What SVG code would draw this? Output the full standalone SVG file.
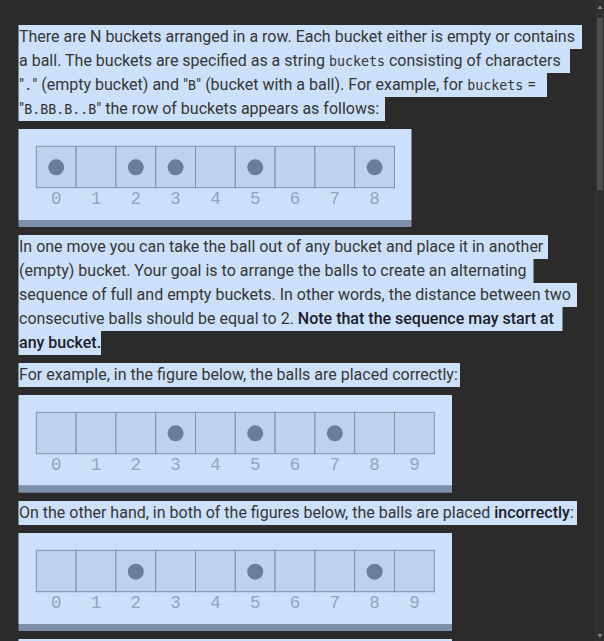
<svg xmlns="http://www.w3.org/2000/svg" width="604" height="641" viewBox="0 0 604 641">
<style>
.bg{fill:#2b2b2b}
.hl{fill:#cce0fa}
.t{font-family:Roboto,"Liberation Sans",sans-serif;font-size:16px;fill:#363636}
.m{font-family:"DejaVu Sans Mono","Liberation Mono",monospace;font-size:13.3px}
.b{font-weight:500;fill:#1c1c2a}
.box{fill:#cce0fa}
.stripe{fill:#7e90a9}
.cell{fill:#bed2ec;stroke:#7f92aa;stroke-width:1}
.ball{fill:#6b7e98}
.lbl{font-family:"Liberation Mono","DejaVu Sans Mono",monospace;font-size:17.5px;fill:#93a5bb;text-anchor:middle}
</style>
<rect class="bg" x="0" y="0" width="604" height="641"/>
<g id="scrollbar">
<rect x="595" y="0" width="9" height="641" fill="#303030"/>
<rect x="597" y="18" width="6" height="172" rx="1" fill="#4e4e4e"/>
<path d="M597.5 9 L600 5.5 L602.5 9 Z" fill="#8a8a8a"/>
<path d="M597.5 634 L600 637.5 L602.5 634 Z" fill="#8a8a8a"/>
</g>
<g id="para1">
<rect class="hl" x="18.5" y="25" width="563.5" height="24"/>
<rect class="hl" x="18.5" y="49" width="551.5" height="24"/>
<rect class="hl" x="18.5" y="73" width="528.5" height="24"/>
<rect class="hl" x="18.5" y="97" width="366.5" height="24"/>
<text class="t" x="19" y="42.4" xml:space="preserve">There are N buckets arranged in a row. Each bucket either is empty or contains</text>
<text class="t" x="19" y="66.4" xml:space="preserve">a ball. The buckets are specified as a string <tspan class="m">buckets</tspan> consisting of characters</text>
<text class="t" x="19" y="90.4" xml:space="preserve">"<tspan class="m">.</tspan>" (empty bucket) and "<tspan class="m">B</tspan>" (bucket with a ball). For example, for <tspan class="m">buckets</tspan> =</text>
<text class="t" x="19" y="114.4" xml:space="preserve">"<tspan class="m">B.BB.B..B</tspan>" the row of buckets appears as follows:</text>
</g>
<g id="figure1">
<rect class="box" x="18.5" y="129" width="393" height="91"/>
<rect class="stripe" x="18.5" y="220" width="393" height="7"/>
<rect class="cell" x="36.3" y="146.3" width="39.8" height="41.4"/>
<rect class="cell" x="76.1" y="146.3" width="39.8" height="41.4"/>
<rect class="cell" x="115.9" y="146.3" width="39.8" height="41.4"/>
<rect class="cell" x="155.7" y="146.3" width="39.8" height="41.4"/>
<rect class="cell" x="195.5" y="146.3" width="39.8" height="41.4"/>
<rect class="cell" x="235.3" y="146.3" width="39.8" height="41.4"/>
<rect class="cell" x="275.1" y="146.3" width="39.8" height="41.4"/>
<rect class="cell" x="314.9" y="146.3" width="39.8" height="41.4"/>
<rect class="cell" x="354.7" y="146.3" width="39.8" height="41.4"/>
<circle class="ball" cx="56.2" cy="167.3" r="8"/>
<circle class="ball" cx="135.8" cy="167.3" r="8"/>
<circle class="ball" cx="175.6" cy="167.3" r="8"/>
<circle class="ball" cx="255.2" cy="167.3" r="8"/>
<circle class="ball" cx="374.6" cy="167.3" r="8"/>
<text class="lbl" x="56.2" y="203.5">0</text>
<text class="lbl" x="96" y="203.5">1</text>
<text class="lbl" x="135.8" y="203.5">2</text>
<text class="lbl" x="175.6" y="203.5">3</text>
<text class="lbl" x="215.4" y="203.5">4</text>
<text class="lbl" x="255.2" y="203.5">5</text>
<text class="lbl" x="295" y="203.5">6</text>
<text class="lbl" x="334.8" y="203.5">7</text>
<text class="lbl" x="374.6" y="203.5">8</text>
</g>
<g id="para2">
<rect class="hl" x="18.5" y="235" width="529.5" height="24"/>
<rect class="hl" x="18.5" y="259" width="515" height="24"/>
<rect class="hl" x="18.5" y="283" width="558.5" height="24"/>
<rect class="hl" x="18.5" y="307" width="544" height="24"/>
<rect class="hl" x="18.5" y="331" width="82.5" height="24"/>
<text class="t" x="19" y="252.4" xml:space="preserve">In one move you can take the ball out of any bucket and place it in another</text>
<text class="t" x="19" y="276.4" xml:space="preserve">(empty) bucket. Your goal is to arrange the balls to create an alternating</text>
<text class="t" x="19" y="300.4" xml:space="preserve">sequence of full and empty buckets. In other words, the distance between two</text>
<text class="t" x="19" y="324.4" xml:space="preserve">consecutive balls should be equal to 2. <tspan class="b">Note that the sequence may start at</tspan></text>
<text class="t b" x="19" y="348.4" xml:space="preserve">any bucket.</text>
</g>
<g id="para3">
<rect class="hl" x="18.5" y="363" width="441.5" height="24"/>
<text class="t" x="19" y="380.4" xml:space="preserve">For example, in the figure below, the balls are placed correctly:</text>
</g>
<g id="figure2">
<rect class="box" x="18.5" y="395" width="433.5" height="90.7"/>
<rect class="stripe" x="18.5" y="485.7" width="433.5" height="7"/>
<rect class="cell" x="36.3" y="412.3" width="39.8" height="41.4"/>
<rect class="cell" x="76.1" y="412.3" width="39.8" height="41.4"/>
<rect class="cell" x="115.9" y="412.3" width="39.8" height="41.4"/>
<rect class="cell" x="155.7" y="412.3" width="39.8" height="41.4"/>
<rect class="cell" x="195.5" y="412.3" width="39.8" height="41.4"/>
<rect class="cell" x="235.3" y="412.3" width="39.8" height="41.4"/>
<rect class="cell" x="275.1" y="412.3" width="39.8" height="41.4"/>
<rect class="cell" x="314.9" y="412.3" width="39.8" height="41.4"/>
<rect class="cell" x="354.7" y="412.3" width="39.8" height="41.4"/>
<rect class="cell" x="394.5" y="412.3" width="39.8" height="41.4"/>
<circle class="ball" cx="175.6" cy="433.3" r="8"/>
<circle class="ball" cx="255.2" cy="433.3" r="8"/>
<circle class="ball" cx="334.8" cy="433.3" r="8"/>
<text class="lbl" x="56.2" y="469.5">0</text>
<text class="lbl" x="96" y="469.5">1</text>
<text class="lbl" x="135.8" y="469.5">2</text>
<text class="lbl" x="175.6" y="469.5">3</text>
<text class="lbl" x="215.4" y="469.5">4</text>
<text class="lbl" x="255.2" y="469.5">5</text>
<text class="lbl" x="295" y="469.5">6</text>
<text class="lbl" x="334.8" y="469.5">7</text>
<text class="lbl" x="374.6" y="469.5">8</text>
<text class="lbl" x="414.4" y="469.5">9</text>
</g>
<g id="para4">
<rect class="hl" x="18.5" y="501" width="558.5" height="24"/>
<text class="t" x="19" y="518.4" xml:space="preserve">On the other hand, in both of the figures below, the balls are placed <tspan class="b">incorrectly</tspan>:</text>
</g>
<g id="figure3">
<rect class="box" x="18.5" y="533" width="433.5" height="91"/>
<rect class="stripe" x="18.5" y="624" width="433.5" height="7"/>
<rect class="cell" x="36.3" y="550.3" width="39.8" height="41.4"/>
<rect class="cell" x="76.1" y="550.3" width="39.8" height="41.4"/>
<rect class="cell" x="115.9" y="550.3" width="39.8" height="41.4"/>
<rect class="cell" x="155.7" y="550.3" width="39.8" height="41.4"/>
<rect class="cell" x="195.5" y="550.3" width="39.8" height="41.4"/>
<rect class="cell" x="235.3" y="550.3" width="39.8" height="41.4"/>
<rect class="cell" x="275.1" y="550.3" width="39.8" height="41.4"/>
<rect class="cell" x="314.9" y="550.3" width="39.8" height="41.4"/>
<rect class="cell" x="354.7" y="550.3" width="39.8" height="41.4"/>
<rect class="cell" x="394.5" y="550.3" width="39.8" height="41.4"/>
<circle class="ball" cx="135.8" cy="571.7" r="8"/>
<circle class="ball" cx="255.2" cy="571.7" r="8"/>
<circle class="ball" cx="374.6" cy="571.7" r="8"/>
<text class="lbl" x="56.2" y="607.5">0</text>
<text class="lbl" x="96" y="607.5">1</text>
<text class="lbl" x="135.8" y="607.5">2</text>
<text class="lbl" x="175.6" y="607.5">3</text>
<text class="lbl" x="215.4" y="607.5">4</text>
<text class="lbl" x="255.2" y="607.5">5</text>
<text class="lbl" x="295" y="607.5">6</text>
<text class="lbl" x="334.8" y="607.5">7</text>
<text class="lbl" x="374.6" y="607.5">8</text>
<text class="lbl" x="414.4" y="607.5">9</text>
</g>
<g id="figure4">
<rect class="box" x="18.5" y="639" width="433.5" height="2"/>
</g>
</svg>
